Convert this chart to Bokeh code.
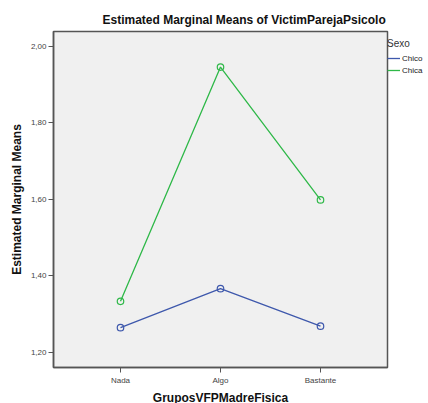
from bokeh.plotting import figure
from bokeh.models import Range1d, FixedTicker, Legend, LegendItem
from bokeh.embed import file_html
from bokeh.resources import INLINE

# ---- data ----
categories = ["Nada", "Algo", "Bastante"]
series_names = ["Chico", "Chica"]
chico = [1.264, 1.366, 1.268]
chica = [1.333, 1.945, 1.598]
y_ticks = [1.2, 1.4, 1.6, 1.8, 2.0]
y_tick_labels = ["1,20", "1,40", "1,60", "1,80", "2,00"]
colors = ["#3E58AC", "#2EB848"]

FONT = "Liberation Sans"
x = list(range(1, len(categories) + 1))

p = figure(width=428, height=403, frame_width=334, frame_height=336,
           output_backend="svg", toolbar_location=None,
           x_range=Range1d(0.33, 3.67), y_range=Range1d(1.16, 2.038),
           min_border_left=53, min_border_right=41, min_border_top=31,
           min_border_bottom=36)

p.background_fill_color = "#F0F0F0"
p.border_fill_color = "white"
p.outline_line_color = "#555555"
p.outline_line_width = 1.5
p.grid.visible = False

p.title.text = "Estimated Marginal Means of VictimParejaPsicolo"
p.title.text_font = FONT
p.title.text_font_size = "12px"
p.title.text_font_style = "bold"
p.title.text_color = "#111111"
p.title.align = "left"
p.title.offset = 49

# axes
p.xaxis.ticker = FixedTicker(ticks=x)
p.xaxis.major_label_overrides = {i: c for i, c in zip(x, categories)}
p.yaxis.ticker = FixedTicker(ticks=y_ticks)
p.yaxis.major_label_overrides = {t: l for t, l in zip(y_ticks, y_tick_labels)}
p.xaxis.axis_label = "GruposVFPMadreFisica"
p.yaxis.axis_label = "Estimated Marginal Means"
for ax in (p.xaxis[0], p.yaxis[0]):
    ax.axis_label_text_font = FONT
    ax.axis_label_text_font_size = "12px"
    ax.axis_label_text_font_style = "bold"
    ax.axis_label_text_color = "#111111"
    ax.major_label_text_font = FONT
    ax.major_label_text_font_size = "8px"
    ax.major_label_text_color = "#444444"
    ax.major_tick_in = 0
    ax.major_tick_out = 5
    ax.major_tick_line_color = "#555555"
    ax.minor_tick_line_color = None
    ax.axis_line_color = "#555555"
    ax.axis_line_width = 1.5
p.xaxis.major_label_standoff = 3
p.xaxis.axis_label_standoff = 3
p.yaxis.major_label_standoff = 2
p.yaxis.axis_label_standoff = 4

items = []
for name, vals, col in zip(series_names, [chico, chica], colors):
    r = p.line(x, vals, line_color=col, line_width=1.3)
    p.scatter(x, vals, marker="circle", size=6.5, fill_color=None,
              line_color=col, line_width=1.2)
    items.append(LegendItem(label=name, renderers=[r]))

legend = Legend(items=items, title="Sexo", location=(0, 291),
                margin=0, padding=0, spacing=0,
                glyph_width=13, glyph_height=12, label_height=12,
                label_standoff=2, title_standoff=3,
                label_text_font=FONT, label_text_font_size="8px",
                label_text_color="#222222",
                title_text_font=FONT, title_text_font_size="10px",
                title_text_font_style="normal", title_text_color="#333333",
                border_line_color=None, background_fill_alpha=0)
p.add_layout(legend, "right")

open("out.html", "w").write(file_html(p, INLINE))
